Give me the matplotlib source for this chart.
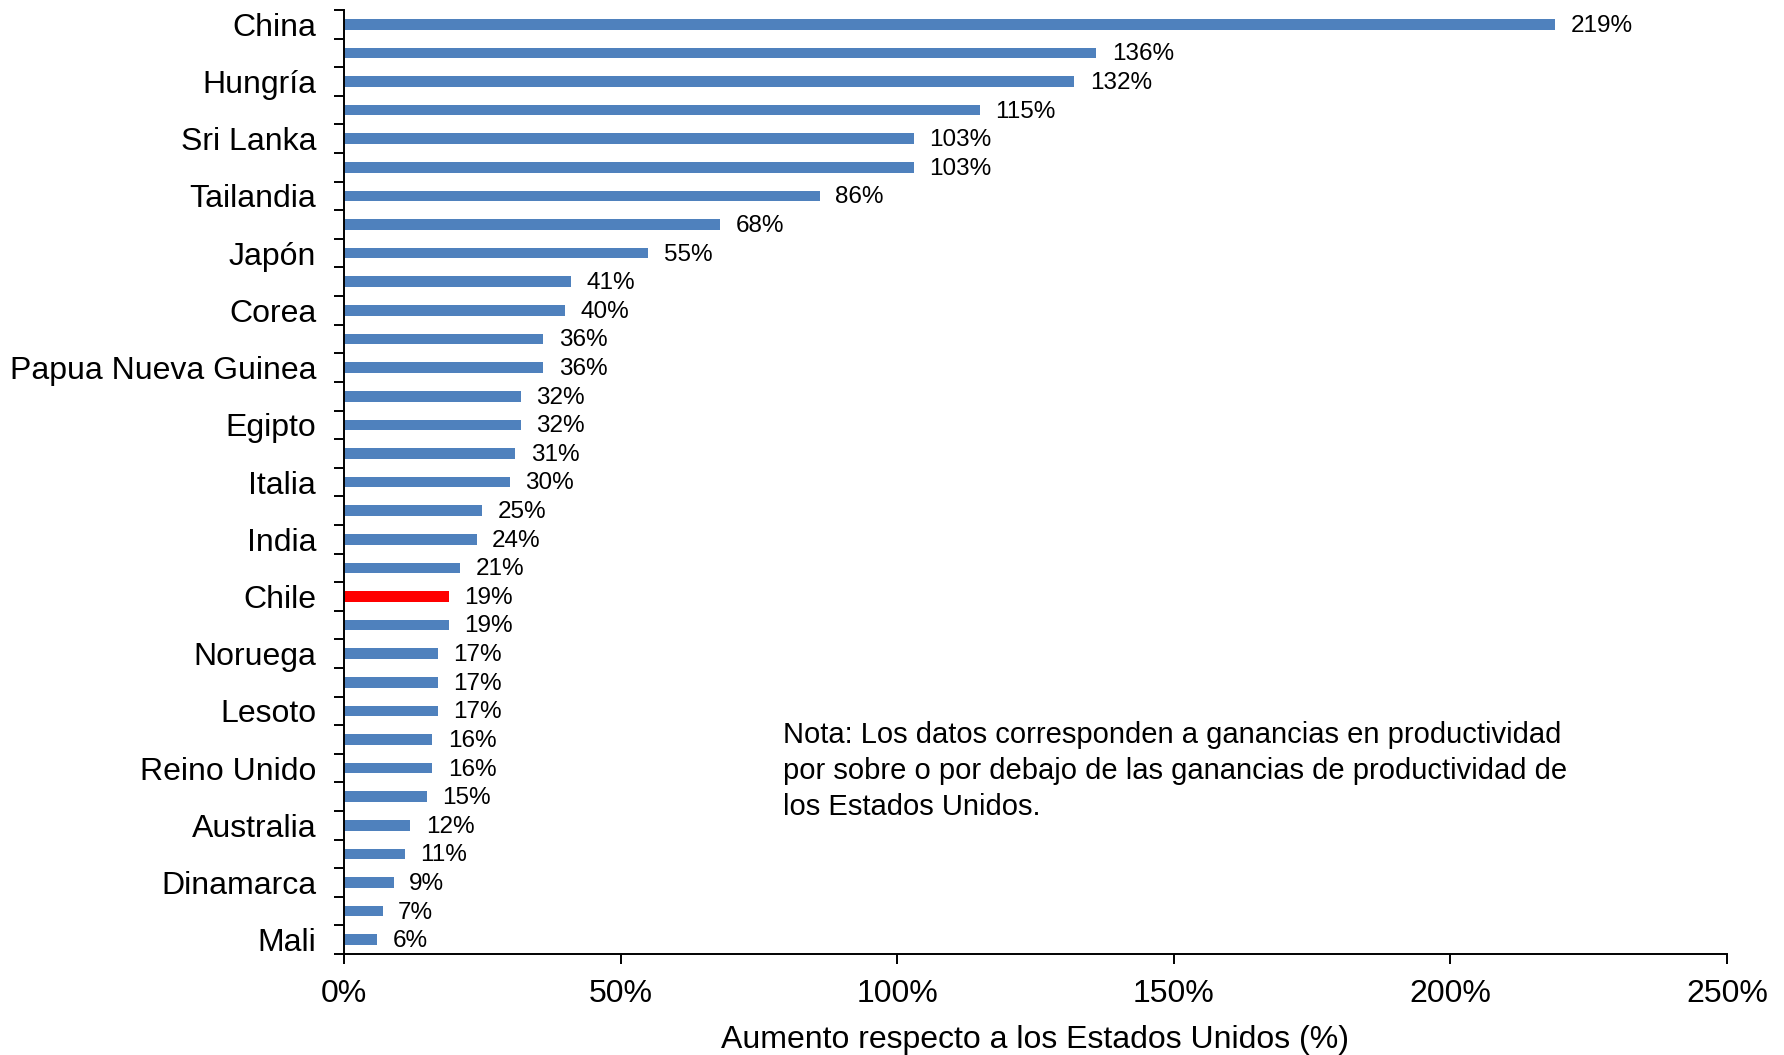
import matplotlib
matplotlib.use("Agg")
import matplotlib.pyplot as plt
import numpy as np

labels = ["China", "", "Hungría", "", "Sri Lanka", "", "Tailandia", "", "Japón", "",
          "Corea", "", "Papua Nueva Guinea", "", "Egipto", "", "Italia", "", "India", "",
          "Chile", "", "Noruega", "", "Lesoto", "", "Reino Unido", "", "Australia", "",
          "Dinamarca", "", "Mali"]
values = [219, 136, 132, 115, 103, 103, 86, 68, 55, 41, 40, 36, 36, 32, 32, 31, 30, 25,
          24, 21, 19, 19, 17, 17, 17, 16, 16, 15, 12, 11, 9, 7, 6]
highlight = "Chile"
xticks = [0, 50, 100, 150, 200, 250]
xticklabels = ["0%", "50%", "100%", "150%", "200%", "250%"]
xlabel = "Aumento respecto a los Estados Unidos (%)"
note = ("Nota: Los datos corresponden a ganancias en productividad\n"
        "por sobre o por debajo de las ganancias de productividad de\n"
        "los Estados Unidos.")

plt.rcParams['font.family'] = ['Liberation Sans', 'DejaVu Sans']

fig = plt.figure(figsize=(17.84, 10.55), dpi=100)
ax = fig.add_axes([0.1928, 0.0957, 0.968 - 0.1928, 0.9905 - 0.0957])

n = len(values)
y = np.arange(n)
colors = ["#FF0000" if labels[i] == highlight else "#4F81BD" for i in range(n)]
ax.barh(y, values, height=0.37, color=colors, edgecolor="none")

for i, v in enumerate(values):
    ax.text(v + 2.8, y[i] + 0.05, f"{v}%", va="center", ha="left", fontsize=17.5)

ax.set_ylim(n - 0.5, -0.5)
ax.set_xlim(0, 250)

ax.set_yticks(np.arange(-0.5, n, 1.0))
ax.set_yticklabels([])
ax.set_yticks(y, minor=True)
ax.set_yticklabels(labels, minor=True, fontsize=23)
ax.tick_params(axis='y', which='major', length=7.2, width=1.4, direction='out')
ax.tick_params(axis='y', which='minor', length=0, pad=20)

ax.set_xticks(xticks)
ax.set_xticklabels(xticklabels, fontsize=23)
ax.tick_params(axis='x', which='major', length=7.2, width=1.4, direction='out', pad=11)

ax.set_xlabel(xlabel, fontsize=23, labelpad=11)

for s in ['top', 'right']:
    ax.spines[s].set_visible(False)
for s in ['left', 'bottom']:
    ax.spines[s].set_linewidth(1.4)

fig.text(783 / 1784, 1 - 721 / 1055, note, fontsize=21, va="top", ha="left",
         linespacing=1.36)

fig.savefig("out.png", dpi=100)
